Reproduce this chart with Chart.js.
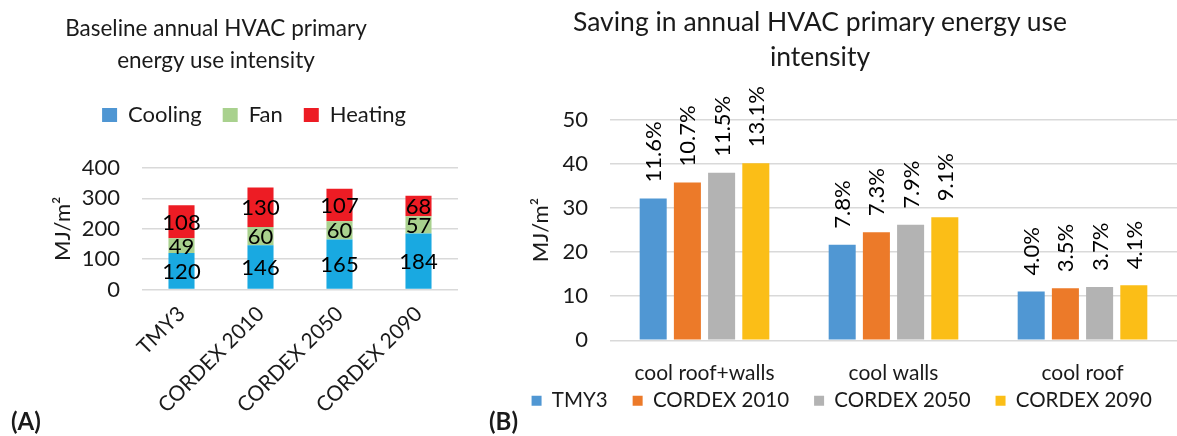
<!DOCTYPE html>
<html>
<head>
<meta charset="utf-8">
<script src="https://cdn.jsdelivr.net/npm/chart.js@4.4.1/dist/chart.umd.min.js"></script>
<style>
  body { margin: 0; background: #fff; }
  #page { position: relative; width: 1177px; height: 436px; overflow: hidden; font-family: Lato, sans-serif; color: #1a1a1a; }
  .box { position: absolute; top: 0; height: 436px; }
  .ttl { position: absolute; text-align: center; white-space: nowrap; }
  .tag { position: absolute; font-weight: bold; font-size: 24px; line-height: 28px; }
</style>
</head>
<body>
<div id="page">
  <div class="box" style="left:0;width:480px;"><canvas id="chartA"></canvas></div>
  <div class="box" style="left:480px;width:697px;"><canvas id="chartB"></canvas></div>
  <div class="ttl" style="left:16px;top:12px;width:400px;font-size:22.5px;line-height:32px;">Baseline annual HVAC primary<br>energy use intensity</div>
  <div class="ttl" style="left:570px;top:4px;width:500px;font-size:26.5px;line-height:35px;">Saving in annual HVAC primary energy use<br>intensity</div>
  <div class="tag" style="left:11px;top:407px;">(A)</div>
  <div class="tag" style="left:489px;top:407px;">(B)</div>
</div>
<script>
// (A) baseline HVAC primary EUI, MJ/m2
const climates = ['TMY3', 'CORDEX 2010', 'CORDEX 2050', 'CORDEX 2090'];
const coolingEui = [120, 146, 165, 184];
const fanEui = [49, 60, 60, 57];
const heatingEui = [108, 130, 107, 68];
const euiTicks = [0, 100, 200, 300, 400];

// (B) savings, MJ/m2, with the % labels printed above each bar
const measures = ['cool roof+walls', 'cool walls', 'cool roof'];
const savingTMY3 = [32.2, 21.7, 11.1];
const saving2010 = [35.8, 24.5, 11.8];
const saving2050 = [38.0, 26.2, 12.1];
const saving2090 = [40.2, 27.9, 12.5];
const pctTMY3 = ['11.6%', '7.8%', '4.0%'];
const pct2010 = ['10.7%', '7.3%', '3.5%'];
const pct2050 = ['11.5%', '7.9%', '3.7%'];
const pct2090 = ['13.1%', '9.1%', '4.1%'];
const savingTicks = [0, 10, 20, 30, 40, 50];

Chart.defaults.font.family = 'Lato';
Chart.defaults.font.size = 22;
Chart.defaults.color = '#1a1a1a';

const gridColor = '#D9D9D9';

// adds (or removes) height under a legend
function legendGap(px) {
    return {
        id: 'legendGap',
        beforeInit(chart) {
            const fit = chart.legend.fit;
            chart.legend.fit = function () {
                fit.call(this);
                this.height += px;
            };
        }
    };
}

// moves the legend up/down after layout (Excel packs it tight under the labels)
function legendShift(dy) {
    return {
        id: 'legendShift',
        afterLayout(chart) {
            chart.legend.top += dy;
            chart.legend.bottom += dy;
        }
    };
}

// writes a text on every bar, either centred in the segment or rotated above the bar
function barLabels(mode, textFor) {
    return {
        id: 'barLabels',
        afterDatasetsDraw(chart) {
            const ctx = chart.ctx;
            ctx.save();
            ctx.font = '22px Lato';
            ctx.fillStyle = '#000';
            chart.data.datasets.forEach(function (ds, i) {
                chart.getDatasetMeta(i).data.forEach(function (bar, j) {
                    const text = textFor(i, j);
                    if (mode === 'center') {
                        ctx.textAlign = 'center';
                        ctx.textBaseline = 'middle';
                        ctx.fillText(text, bar.x, (bar.y + bar.base) / 2 + 1);
                    } else {
                        ctx.save();
                        ctx.translate(bar.x, bar.y - 16);
                        ctx.rotate(-Math.PI / 2);
                        ctx.textAlign = 'left';
                        ctx.textBaseline = 'middle';
                        ctx.fillText(text, 0, 1);
                        ctx.restore();
                    }
                });
            });
            ctx.restore();
        }
    };
}

const seriesA = [coolingEui, fanEui, heatingEui];

new Chart(document.getElementById('chartA'), {
    type: 'bar',
    data: {
        labels: climates,
        datasets: [
            { label: 'Cooling', data: coolingEui, backgroundColor: '#19A9E1' },
            { label: 'Fan', data: fanEui, backgroundColor: '#A9D18E' },
            { label: 'Heating', data: heatingEui, backgroundColor: '#ED1C24' }
        ]
    },
    options: {
        responsive: true,
        maintainAspectRatio: false,
        animation: false,
        layout: { padding: { left: 50, right: 22, top: 83, bottom: 14 } },
        datasets: { bar: { categoryPercentage: 0.33, barPercentage: 1 } },
        plugins: {
            tooltip: { enabled: false },
            legend: {
                position: 'top',
                labels: {
                    boxWidth: 15,
                    boxHeight: 14,
                    padding: 21,
                    generateLabels(chart) {
                        const items = Chart.defaults.plugins.legend.labels.generateLabels(chart);
                        items[0].fillStyle = '#4F96D3'; // legend swatch differs from the bars
                        return items;
                    }
                }
            }
        },
        scales: {
            x: {
                stacked: true,
                grid: { display: false },
                border: { display: false },
                ticks: { minRotation: 45, maxRotation: 45, padding: 4, font: { size: 21 } }
            },
            y: {
                stacked: true,
                min: euiTicks[0],
                max: euiTicks[euiTicks.length - 1],
                ticks: { stepSize: euiTicks[1] - euiTicks[0], padding: 22, autoSkip: false },
                grid: { color: gridColor, lineWidth: 1.5, drawTicks: false },
                border: { display: false },
                title: { display: true, text: 'MJ/m²', padding: { top: 0, bottom: 8 } },
                afterFit(scale) { scale.width = 92; }
            }
        }
    },
    plugins: [legendGap(32), barLabels('center', function (i, j) { return String(seriesA[i][j]); })]
});

const pctB = [pctTMY3, pct2010, pct2050, pct2090];

new Chart(document.getElementById('chartB'), {
    type: 'bar',
    data: {
        labels: measures,
        datasets: [
            { label: 'TMY3', data: savingTMY3, backgroundColor: '#5097D3' },
            { label: 'CORDEX 2010', data: saving2010, backgroundColor: '#EC7A29' },
            { label: 'CORDEX 2050', data: saving2050, backgroundColor: '#B3B3B3' },
            { label: 'CORDEX 2090', data: saving2090, backgroundColor: '#FBBE17' }
        ]
    },
    options: {
        responsive: true,
        maintainAspectRatio: false,
        animation: false,
        layout: { padding: { left: 0, right: 0, top: 120, bottom: -17 } },
        datasets: { bar: { categoryPercentage: 0.724, barPercentage: 0.79 } },
        plugins: {
            tooltip: { enabled: false },
            legend: {
                position: 'bottom',
                align: 'end',
                labels: { boxWidth: 10, boxHeight: 10, padding: 25, font: { size: 20.5 } }
            }
        },
        scales: {
            x: {
                grid: { display: false },
                border: { display: false },
                ticks: { padding: 12, maxRotation: 0, font: { size: 21 } }
            },
            y: {
                min: savingTicks[0],
                max: savingTicks[savingTicks.length - 1],
                ticks: { stepSize: savingTicks[1] - savingTicks[0], padding: 22, autoSkip: false },
                grid: { color: gridColor, lineWidth: 1.5, drawTicks: false },
                border: { display: false },
                title: { display: true, text: 'MJ/m²', padding: { top: 48, bottom: 0 } },
                afterFit(scale) { scale.width = 130; }
            }
        }
    },
    plugins: [legendShift(-32), barLabels('above', function (i, j) { return pctB[i][j]; })]
});
</script>
</body>
</html>
